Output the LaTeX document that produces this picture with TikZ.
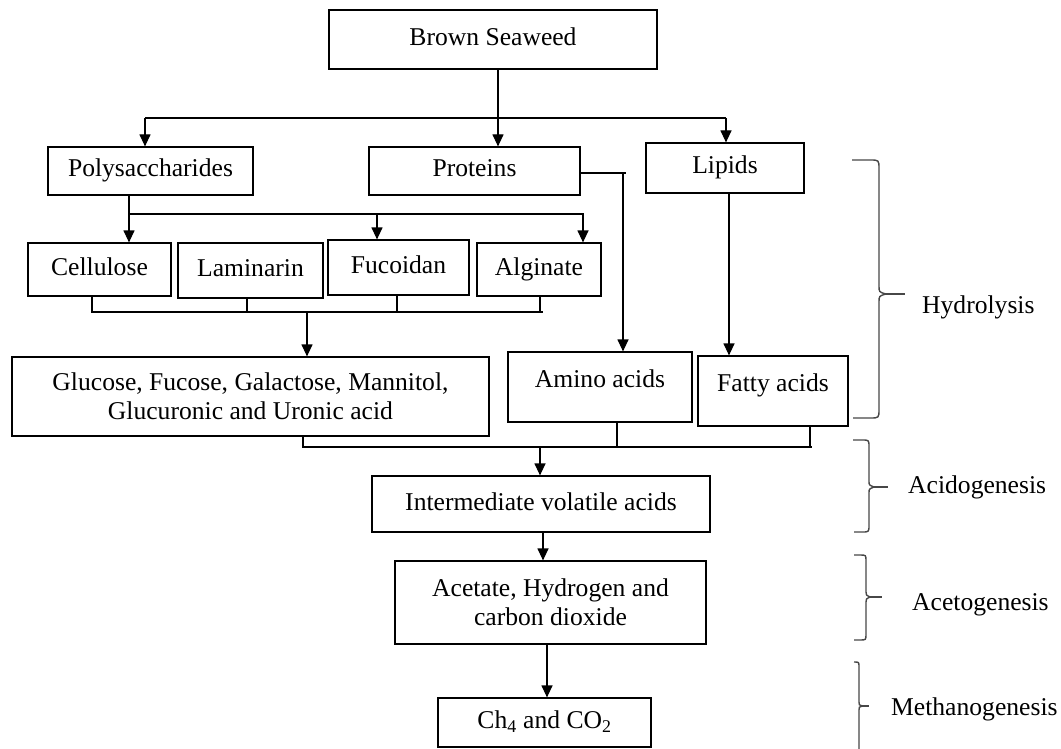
\documentclass[tikz,border=0pt]{standalone}
\usepackage{fontspec}
\setmainfont{Liberation Serif}
\usetikzlibrary{arrows.meta}
\begin{document}
\begin{tikzpicture}[x=1pt,y=-1pt,
  box/.style={draw, line width=1.2pt, inner sep=0pt, align=center,
    font=\fontsize{25.6pt}{29pt}\selectfont},
  onebox/.style={box, text height=18pt, text depth=6pt},
  conn/.style={line width=1.2pt},
  arr/.style={conn, -{Triangle[length=12pt,width=11pt]}},
  brace/.style={line width=1.4pt, draw=black!72},
  lab/.style={font=\fontsize{25.6pt}{29pt}\selectfont, anchor=base west, inner sep=0pt}]
\useasboundingbox (0,0) rectangle (1061,749);

% boxes
\node[onebox, minimum width=328pt, minimum height=59pt] (brown) at (493,39.5) {Brown Seaweed};
\node[onebox, minimum width=205pt, minimum height=48pt] (poly) at (150.5,171) {Polysaccharides};
\node[onebox, minimum width=211pt, minimum height=48pt] (prot) at (474.5,171) {Proteins};
\node[onebox, minimum width=158pt, minimum height=50pt] (lipids) at (725,168) {Lipids};
\node[onebox, minimum width=143pt, minimum height=53pt] (cell) at (99.5,269.5) {Cellulose};
\node[onebox, minimum width=145pt, minimum height=55pt] (lam) at (250.5,270.5) {Laminarin};
\node[onebox, minimum width=141pt, minimum height=55pt] (fuc) at (398.5,267.5) {Fucoidan};
\node[onebox, minimum width=124pt, minimum height=53pt] (alg) at (539,269.5) {Alginate};
\node[box, minimum width=477pt, minimum height=79pt] (gluc) at (250.5,396.5)
  {Glucose, Fucose, Galactose, Mannitol,\\Glucuronic and Uronic acid};
\node[box, minimum width=184pt, text height=35pt, text depth=35pt] (amino) at (600,387) {Amino acids};
\node[box, minimum width=150pt, text height=35pt, text depth=35pt] (fatty) at (773,391) {Fatty acids};
\node[onebox, minimum width=338pt, minimum height=56pt] (inter) at (541,504) {Intermediate volatile acids};
\node[box, minimum width=311pt, minimum height=83pt] (acet) at (550.5,602.5)
  {Acetate, Hydrogen and\\carbon dioxide};
\node[onebox, minimum width=213pt, minimum height=49pt] (ch4) at (544.5,722.5)
  {Ch\textsubscript{4} and CO\textsubscript{2}};

% Brown seaweed -> three groups
\draw[arr] ([xshift=5pt]brown.south) -- ([xshift=5pt]brown.south |- prot.north);
\coordinate (t1) at (145,118);
\coordinate (t2) at (726,118);
\draw[conn] (t1) -- (t2);
\draw[arr] (t1) -- (t1 |- poly.north);
\draw[arr] (t2) -- (t2 |- lipids.north);

% Polysaccharides -> four kinds
\coordinate (p0) at (129,214);
\coordinate (p1) at (584,214);
\coordinate (pf) at (377,214);
\coordinate (pa) at (583,214);
\draw[conn] (p0 |- poly.south) -- (p0) -- (p1);
\draw[arr] (p0) -- (p0 |- cell.north);
\draw[arr] (pf) -- (pf |- fuc.north);
\draw[arr] (pa) -- (pa |- alg.north);

% four kinds -> sugars
\coordinate (q1) at (92,312);
\coordinate (q2) at (247,312);
\coordinate (q3) at (397,312);
\coordinate (q4) at (540,312);
\coordinate (qe) at (543,312);
\coordinate (qm) at (307,312);
\draw[conn] (q1 |- cell.south) -- (q1) -- (qe);
\draw[conn] (q2 |- lam.south) -- (q2);
\draw[conn] (q3 |- fuc.south) -- (q3);
\draw[conn] (q4 |- alg.south) -- (q4);
\draw[arr] (qm) -- (qm |- gluc.north);

% Proteins -> amino acids
\coordinate (r1) at (626,173);
\coordinate (r2) at (623,173);
\draw[conn] (prot.east |- r1) -- (r1);
\draw[arr] (r2) -- (r2 |- amino.north);

% Lipids -> fatty acids
\draw[arr] ([xshift=4pt]lipids.south) -- ([xshift=4pt]lipids.south |- fatty.north);

% merge -> intermediate
\coordinate (s1) at (303,447);
\coordinate (s2) at (617,447);
\coordinate (s3) at (810,447);
\coordinate (se) at (812,447);
\coordinate (sm) at (540,447);
\draw[conn] (s1 |- gluc.south) -- (s1) -- (se);
\draw[conn] (s2 |- amino.south) -- (s2);
\draw[conn] (s3 |- fatty.south) -- (s3);
\draw[arr] (sm) -- (sm |- inter.north);

\draw[arr] ([xshift=2pt]inter.south) -- ([xshift=2pt]inter.south |- acet.north);
\draw[arr] ([xshift=-3.5pt]acet.south) -- ([xshift=-3.5pt]acet.south |- ch4.north);

% braces
\draw[brace] (852,160) -- (870,160) .. controls (879,160) .. (879,169) -- (879,286)
  .. controls (879,292) .. (886,294) .. controls (879,296) .. (879,302) -- (879,409)
  .. controls (879,418) .. (870,418) -- (853,418);
\draw[brace] (886,294) -- (905,294);
\draw[brace] (853,440) -- (862,440) .. controls (869,440) .. (869,447) -- (869,481)
  .. controls (869,485) .. (874,487) .. controls (869,489) .. (869,493) -- (869,525)
  .. controls (869,532) .. (862,532) -- (854,532);
\draw[brace] (874,487) -- (888,487);
\draw[brace] (854,555) -- (860,555) .. controls (866,555) .. (866,561) -- (866,592)
  .. controls (866,595) .. (870,597) .. controls (866,599) .. (866,602) -- (866,634)
  .. controls (866,640) .. (860,640) -- (854,640);
\draw[brace] (870,597) -- (882,597);
\draw[brace] (854,662) .. controls (859,662) .. (859,667) -- (859,702)
  .. controls (859,705) .. (862,706) .. controls (859,707) .. (859,710) -- (859,749);
\draw[brace] (862,706) -- (869,706);

% stage labels
\node[lab] (hyd) at (922,313) {Hydrolysis};
\node[lab] (acid) at (908,493) {Acidogenesis};
\node[lab] (aceto) at (912,610) {Acetogenesis};
\node[lab] (meth) at (891,715) {Methanogenesis};
\end{tikzpicture}
\end{document}
